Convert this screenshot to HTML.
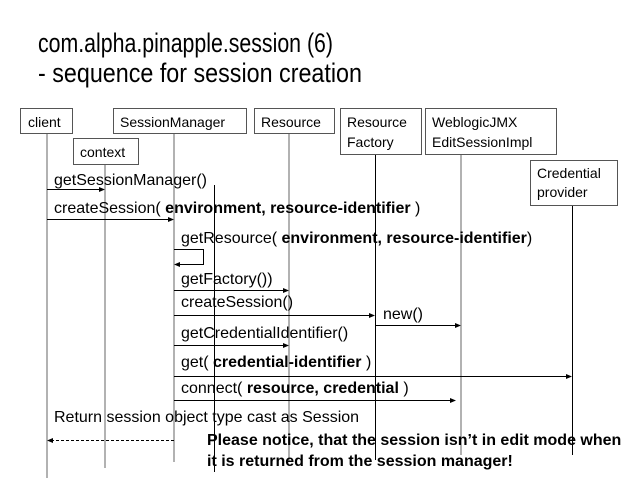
<html><body style="margin:0;background:#fff">
<svg width="640" height="480" xmlns="http://www.w3.org/2000/svg" font-family="Liberation Sans, Arial, sans-serif">
<rect width="640" height="480" fill="#fff"/>
<text x="38" y="52" font-size="27" textLength="295" lengthAdjust="spacingAndGlyphs">com.alpha.pinapple.session (6)</text>
<text x="38" y="82" font-size="27" textLength="324" lengthAdjust="spacingAndGlyphs">- sequence for session creation</text>
<g stroke="#999" stroke-width="1.5">
<line x1="47" y1="133" x2="47" y2="478"/>
<line x1="105" y1="164" x2="105" y2="468"/>
<line x1="174" y1="133" x2="174" y2="462"/>
<line x1="289" y1="133" x2="289" y2="462"/>
<line x1="461" y1="154" x2="461" y2="455"/>
</g>
<g stroke="#000" stroke-width="1">
<line x1="214.5" y1="185" x2="214.5" y2="472"/>
<line x1="375.5" y1="154" x2="375.5" y2="460"/>
<line x1="572.5" y1="205" x2="572.5" y2="455"/>
</g>
<g fill="#fff" stroke="#555" stroke-width="1">
<rect x="20.5" y="108.5" width="52" height="25"/>
<rect x="73.5" y="138.5" width="65" height="26"/>
<rect x="113.5" y="108.5" width="133" height="25"/>
<rect x="254.5" y="108.5" width="80" height="25"/>
<rect x="340.5" y="108.5" width="81" height="46"/>
<rect x="425.5" y="108.5" width="131" height="46"/>
<rect x="530.5" y="160.5" width="87" height="45"/>
</g>
<g font-size="14">
<text x="28" y="127">client</text>
<text x="80" y="157">context</text>
<text x="120" y="127">SessionManager</text>
<text x="261" y="127">Resource</text>
<text x="347" y="127">Resource</text>
<text x="347" y="147">Factory</text>
<text x="432" y="127">WeblogicJMX</text>
<text x="432" y="147">EditSessionImpl</text>
<text x="537" y="178">Credential</text>
<text x="537" y="197">provider</text>
</g>
<g font-size="16">
<text x="54" y="185">getSessionManager()</text>
<text x="54" y="213">createSession( <tspan font-weight="bold">environment, resource-identifier</tspan> )</text>
<text x="181" y="243">getResource( <tspan font-weight="bold">environment, resource-identifier</tspan>)</text>
<text x="181" y="284">getFactory())</text>
<text x="181" y="307">createSession()</text>
<text x="383" y="319">new()</text>
<text x="181" y="338">getCredentialIdentifier()</text>
<text x="181" y="367">get( <tspan font-weight="bold">credential-identifier</tspan> )</text>
<text x="181" y="393">connect( <tspan font-weight="bold">resource, credential</tspan> )</text>
<text x="54" y="422">Return session object type cast as Session</text>
<text x="207" y="445" font-weight="bold">Please notice, that the session isn’t in edit mode when</text>
<text x="207" y="466" font-weight="bold">it is returned from the session manager!</text>
</g>
<g stroke="#000" stroke-width="1">
<line x1="47" y1="189.5" x2="101" y2="189.5"/>
<line x1="47" y1="219.5" x2="170" y2="219.5"/>
<polyline points="174,249.5 203.5,249.5 203.5,264.5 178,264.5" fill="none"/>
<line x1="174" y1="290.5" x2="285" y2="290.5"/>
<line x1="174" y1="315.5" x2="371" y2="315.5"/>
<line x1="375" y1="325.5" x2="457" y2="325.5"/>
<line x1="174" y1="345.5" x2="285" y2="345.5"/>
<line x1="174" y1="376.5" x2="568" y2="376.5"/>
<line x1="174" y1="400.5" x2="452" y2="400.5"/>
<line x1="174" y1="440.5" x2="51" y2="440.5" stroke-dasharray="3,2"/>
</g>
<g fill="#000">
<polygon points="105,189.5 99,187 99,192"/>
<polygon points="174,219.5 168,217 168,222"/>
<polygon points="174,264.5 180,262 180,267"/>
<polygon points="289,290.5 283,288 283,293"/>
<polygon points="375,315.5 369,313 369,318"/>
<polygon points="461,325.5 455,323 455,328"/>
<polygon points="289,345.5 283,343 283,348"/>
<polygon points="572,376.5 566,374 566,379"/>
<polygon points="456,400.5 450,398 450,403"/>
<polygon points="47,440.5 53,438 53,443"/>
</g>
</svg>
</body></html>
